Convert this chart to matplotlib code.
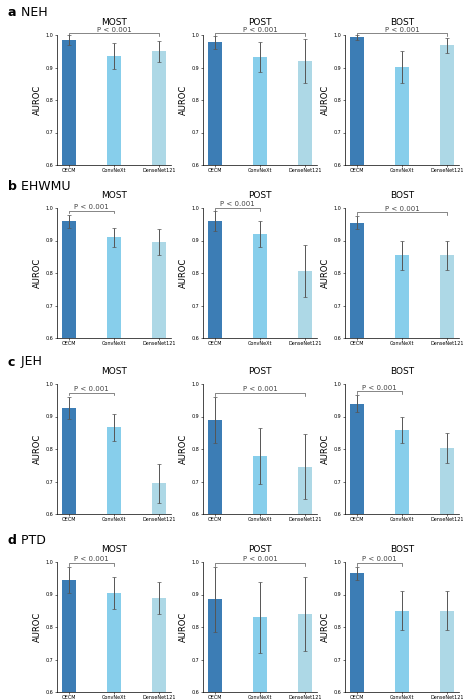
import matplotlib
matplotlib.use("Agg")
import matplotlib.pyplot as plt

models = ["OECM", "ConvNeXt", "DenseNet121"]
rows = ["NEH", "EHWMU", "JEH", "PTD"]
letters = ["a", "b", "c", "d"]
tasks = ["MOST", "POST", "BOST"]
vals = {
 "NEH": [[0.985,0.935,0.95],[0.977,0.932,0.92],[0.993,0.902,0.968]],
 "EHWMU": [[0.96,0.91,0.895],[0.96,0.92,0.805],[0.955,0.855,0.855]],
 "JEH": [[0.927,0.867,0.694],[0.89,0.778,0.746],[0.94,0.86,0.804]],
 "PTD": [[0.945,0.905,0.89],[0.885,0.83,0.84],[0.965,0.85,0.85]],
}
errs = {
 "NEH": [[0.015,0.04,0.033],[0.02,0.045,0.068],[0.007,0.05,0.022]],
 "EHWMU": [[0.02,0.03,0.04],[0.03,0.04,0.08],[0.02,0.045,0.045]],
 "JEH": [[0.034,0.042,0.06],[0.07,0.087,0.1],[0.025,0.04,0.046]],
 "PTD": [[0.04,0.05,0.05],[0.1,0.11,0.115],[0.02,0.06,0.06]],
}
# bracket target index (from OECM)
brackets = {"NEH":[2,2,2],"EHWMU":[1,1,2],"JEH":[1,2,1],"PTD":[1,2,1]}
colors = ["#3c7db5", "#87ceeb", "#add8e6"]

W, H = 469, 700
fig = plt.figure(figsize=(W/100, H/100), dpi=100)
lefts = [57, 203, 345]
aw = 114
row_top = [35, 208, 384, 562]
ah = 130
for r, name in enumerate(rows):
    fig.text(8/W, 1-(row_top[r]-22)/H, letters[r], fontsize=9, fontweight="bold", va="center")
    fig.text(17/W, 1-(row_top[r]-22)/H, " " + name, fontsize=9, va="center")
    for c in range(3):
        ax = fig.add_axes([lefts[c]/W, 1-(row_top[r]+ah)/H, aw/W, ah/H])
        x = list(range(3))
        ax.bar(x, vals[name][c], width=0.3, color=colors,
               yerr=errs[name][c], error_kw=dict(ecolor="#555555", elinewidth=0.7, capsize=1.5, capthick=0.5))
        ax.set_ylim(0.6, 1.0)
        ax.set_yticks([0.6,0.7,0.8,0.9,1.0])
        ax.set_yticklabels(["0.6","0.7","0.8","0.9","1.0"])
        ax.set_xticks(x)
        ax.set_xticklabels(models)
        ax.tick_params(labelsize=3.5, length=1.5, width=0.4, pad=1)
        for s in ["top","right"]:
            ax.spines[s].set_visible(False)
        for s in ["left","bottom"]:
            ax.spines[s].set_linewidth(0.5)
        ax.set_ylabel("AUROC", fontsize=6, labelpad=3)
        ax.set_title(tasks[c], fontsize=6.5, pad=7 if name=="NEH" else 7)
        j = brackets[name][c]
        top = 1.0 if name == "NEH" else max(vals[name][c][k]+errs[name][c][k] for k in range(j+1)) + 0.012
        top = min(top, 1.0)
        if name == "NEH":
            top = 1.005
        ax.plot([0,0,j,j],[top-0.008,top,top,top-0.008], color="#555555", lw=0.5, clip_on=False)
        ax.text(j/2, top+0.002, "P < 0.001", ha="center", va="bottom", fontsize=5, color="#444444")
fig.savefig("out.png", dpi=100)
